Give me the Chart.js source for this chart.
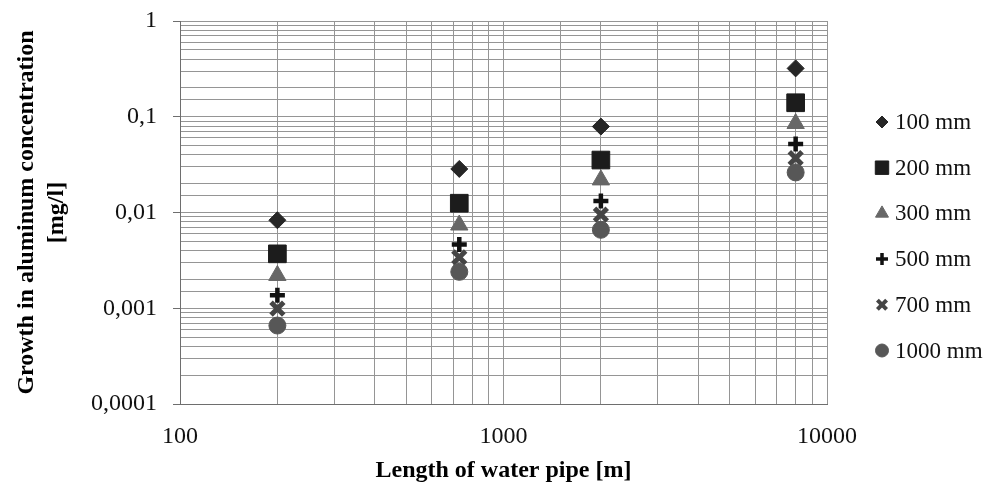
<!DOCTYPE html>
<html>
<head>
<meta charset="utf-8">
<script src="https://cdn.jsdelivr.net/npm/chart.js@4.4.1/dist/chart.umd.min.js"></script>
<style>
  html, body { margin: 0; padding: 0; background: #fff; }
  #wrap { width: 995px; height: 488px; }
</style>
</head>
<body>
<div id="wrap"><canvas id="chart" width="995" height="488"></canvas></div>
<script>
// pipe length [m] for each measured point
var pipeLengths = [200, 730, 2000, 8000];

// growth in aluminum concentration [mg/l], one array per pipe diameter
var seriesNames = ['100 mm', '200 mm', '300 mm', '500 mm', '700 mm', '1000 mm'];
var d100  = [0.0083, 0.0285, 0.079, 0.32];
var d200  = [0.0037, 0.0125, 0.0353, 0.14];
var d300  = [0.0022, 0.0074, 0.0219, 0.085];
var d500  = [0.00137, 0.00464, 0.0132, 0.052];
var d700  = [0.00099, 0.0034, 0.0095, 0.037];
var d1000 = [0.00066, 0.0024, 0.0066, 0.0262];

var yTickLabels = ['0,0001', '0,001', '0,01', '0,1', '1'];   // 10^-4 .. 10^0
var xTickLabels = ['100', '1000', '10000'];                  // 10^2 .. 10^4

// marker styles (Excel-like)
var markerStyles = ['rectRot', 'rect', 'triangle', 'cross', 'crossRot', 'circle'];
var markerColors = ['#262626', '#1c1c1c', '#676767', '#111111', '#454545', '#575757'];
var markerRadius = [8.5, 12.5, 10, 7.5, 9, 8.5];
var markerBorder = [1, 1, 1, 4.5, 5, 1];
var legendRadius = [6, 9.5, 7.5, 6, 6.5, 6.5];
var legendBorder = [1, 1, 1, 3.5, 4, 1];

var gridColor = '#959595';
var axisColor = '#6e6e6e';
var serif = '"Liberation Serif", "Times New Roman", serif';

function isMajor(v) {
  var e = Math.log10(v);
  return Math.abs(e - Math.round(e)) < 1e-6;
}

function majorLabel(v, labels, firstExp) {
  if (!isMajor(v)) return '';
  return labels[Math.round(Math.log10(v)) - firstExp] || '';
}

var allSeries = [d100, d200, d300, d500, d700, d1000];
var datasets = allSeries.map(function(vals, i) {
  return {
    label: seriesNames[i],
    data: pipeLengths.map(function(x, j) { return { x: x, y: vals[j] }; }),
    showLine: false,
    pointStyle: markerStyles[i],
    pointRadius: markerRadius[i],
    pointHoverRadius: markerRadius[i],
    pointBorderWidth: markerBorder[i],
    backgroundColor: markerColors[i],
    borderColor: markerColors[i],
    order: allSeries.length - 1 - i   // later series painted on top, like Excel
  };
});

// legend drawn at the right side, one row per series
var sideLegend = {
  id: 'sideLegend',
  afterDraw: function(chart) {
    var ctx = chart.ctx;
    var markX = chart.chartArea.right + 55;
    var rowY = 122, rowStep = 45.7;
    ctx.save();
    chart.data.datasets.forEach(function(ds, i) {
      var y = rowY + i * rowStep;
      ctx.fillStyle = ds.backgroundColor;
      ctx.strokeStyle = ds.borderColor;
      ctx.lineWidth = legendBorder[i];
      Chart.helpers.drawPoint(ctx, { pointStyle: ds.pointStyle, radius: legendRadius[i], borderWidth: legendBorder[i], rotation: 0 }, markX, y);
      ctx.fillStyle = '#111';
      ctx.font = '23px ' + serif;
      ctx.textAlign = 'left';
      ctx.textBaseline = 'middle';
      ctx.fillText(ds.label, markX + 13, y + 1);
    });
    ctx.restore();
  }
};

new Chart(document.getElementById('chart'), {
  type: 'scatter',
  data: { datasets: datasets },
  plugins: [sideLegend],
  options: {
    responsive: false,
    animation: false,
    events: [],
    layout: { padding: { top: 21, right: 168, bottom: 0, left: 0 } },
    plugins: {
      legend: { display: false },
      tooltip: { enabled: false }
    },
    scales: {
      x: {
        type: 'logarithmic',
        min: 100,
        max: 10000,
        afterFit: function(s) { s.height = 84; },
        border: { color: axisColor, width: 1 },
        grid: { color: gridColor, lineWidth: 1, tickLength: 8, tickColor: 'transparent' },
        ticks: {
          autoSkip: false, maxRotation: 0, padding: 10, color: '#111',
          font: { family: serif, size: 24 },
          callback: function(v) { return majorLabel(v, xTickLabels, 2); }
        },
        title: {
          display: true, text: 'Length of water pipe [m]', color: '#000',
          font: { family: serif, size: 24, weight: 'bold' },
          padding: { top: 0, bottom: 3 }
        }
      },
      y: {
        type: 'logarithmic',
        min: 0.0001,
        max: 1,
        afterFit: function(s) { s.width = 180; s.paddingTop = 0; },
        border: { color: axisColor, width: 1 },
        grid: {
          color: gridColor, lineWidth: 1, tickLength: 7,
          tickColor: function(c) { return c.tick && isMajor(c.tick.value) ? axisColor : 'transparent'; }
        },
        ticks: {
          autoSkip: false, padding: 16, color: '#111',
          font: { family: serif, size: 24 },
          callback: function(v) { return majorLabel(v, yTickLabels, -4); }
        },
        title: {
          display: true, text: ['Growth in aluminum concentration', '[mg/l]'], color: '#000',
          font: { family: serif, size: 24, weight: 'bold', lineHeight: 1.25 },
          padding: { top: 12, bottom: 0 }
        }
      }
    }
  }
});
</script>
</body>
</html>
